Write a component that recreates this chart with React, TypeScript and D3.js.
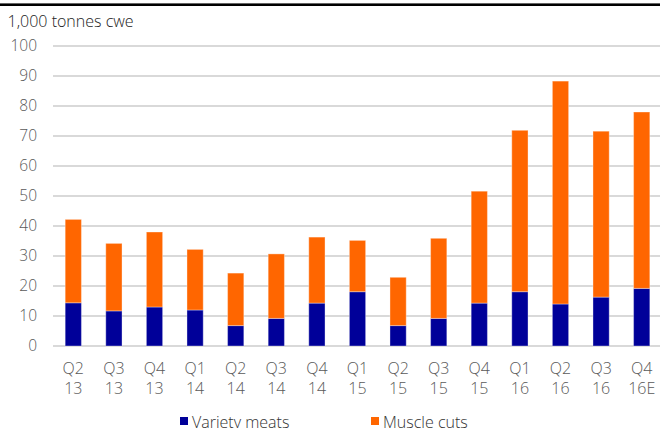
import React from "react";
import * as d3 from "d3";

const categories = [
  "Q2 13", "Q3 13", "Q4 13", "Q1 14", "Q2 14", "Q3 14", "Q4 14", "Q1 15",
  "Q2 15", "Q3 15", "Q4 15", "Q1 16", "Q2 16", "Q3 16", "Q4 16E",
];
const varietyMeats = [14.4, 11.7, 13.0, 12.0, 6.8, 9.2, 14.3, 18.1, 6.8, 9.2, 14.3, 18.1, 14.0, 16.3, 19.2];
const totals = [42.2, 34.2, 38.0, 32.2, 24.3, 30.7, 36.3, 35.2, 22.9, 35.9, 51.6, 71.9, 88.3, 71.6, 78.0];
const muscleCuts = totals.map((t, i) => +(t - varietyMeats[i]).toFixed(1));
const yTicks = [0, 10, 20, 30, 40, 50, 60, 70, 80, 90, 100];

const W = 660;
const H = 428;
const FONT = "'Open Sans', 'Noto Sans', sans-serif";
const BLUE = "#000099";
const ORANGE = "#FF6600";

export default function App() {
  const x = d3.scaleBand<string>().domain(categories).range([53, 662]).paddingInner(0.6).paddingOuter(0.3);
  const y = d3.scaleLinear().domain([0, 100]).range([346, 46]);

  const rows = categories.map((c, i) => ({ cat: c, variety: varietyMeats[i], muscle: muscleCuts[i] }));
  const stacked = d3.stack<any>().keys(["variety", "muscle"])(rows);
  const colors = [BLUE, ORANGE];

  return (
    <svg width={W} height={H} style={{ position: "absolute", left: 0, top: 0, background: "#fff" }} fontFamily={FONT}>
      <rect x={0} y={3.4} width={W} height={2.6} fill="#000" />
      <text x={7.5} y={26.5} fontSize={16} fontWeight={300} fill="#222">1,000 tonnes cwe</text>

      {yTicks.map((t) => (
        <g key={t}>
          <line x1={53} x2={W} y1={y(t)} y2={y(t)} stroke="#d9d9d9" strokeWidth={2} />
          <text x={37} y={y(t)} dy="0.35em" textAnchor="end" fontSize={15.5} fontWeight={300} fill="#595959">{t}</text>
        </g>
      ))}

      {stacked.map((layer, li) => (
        <g key={li}>
          {layer.map((d: any, i: number) => (
            <rect
              key={i}
              x={x(categories[i])!}
              y={y(d[1])}
              width={x.bandwidth()}
              height={y(d[0]) - y(d[1])}
              fill={colors[li]}
              stroke="#fff"
              strokeOpacity={0.35}
              strokeWidth={1}
            />
          ))}
        </g>
      ))}

      {categories.map((c) => {
        const [a, b] = c.split(" ");
        const cx = x(c)! + x.bandwidth() / 2;
        return (
          <text key={c} x={cx} textAnchor="middle" fontSize={16} fontWeight={300} fill="#595959">
            <tspan x={cx} y={373.5}>{a}</tspan>
            <tspan x={cx} y={393.5}>{b}</tspan>
          </text>
        );
      })}

      <rect x={180} y={417} width={8} height={8} fill={BLUE} />
      <text x={192} y={428} fontSize={16} fontWeight={300} fill="#333">Variety meats</text>
      <rect x={371} y={417} width={8} height={8} fill={ORANGE} />
      <text x={383} y={428} fontSize={16} fontWeight={300} fill="#333">Muscle cuts</text>
    </svg>
  );
}
